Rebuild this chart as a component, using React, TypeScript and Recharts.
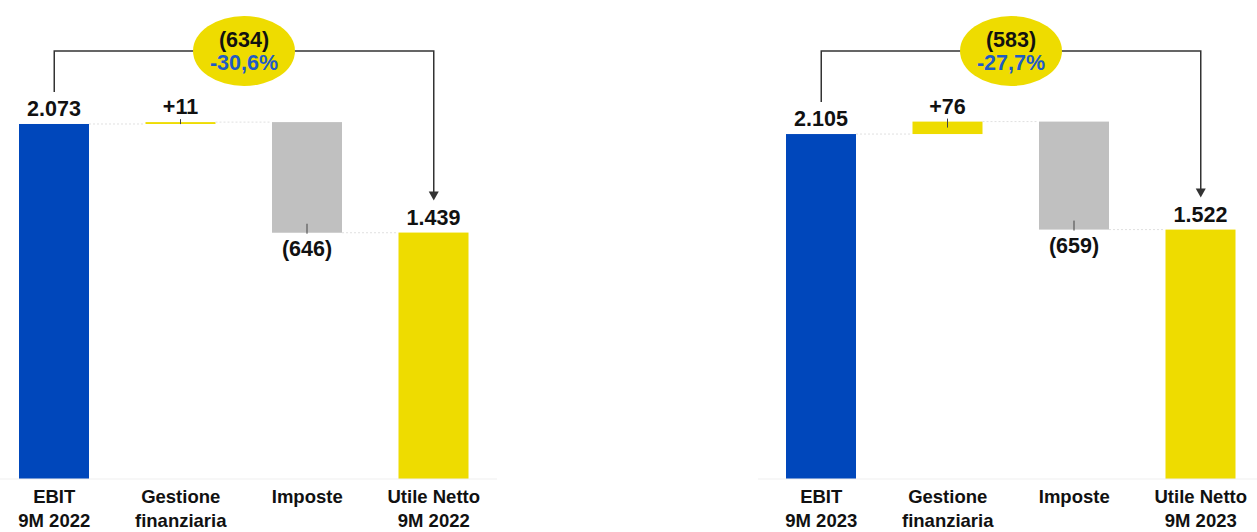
import React from "react";
import { BarChart, Bar, XAxis, YAxis, Cell, ReferenceLine } from "recharts";

const categories2022 = ["EBIT\n9M 2022", "Gestione\nfinanziaria", "Imposte", "Utile Netto\n9M 2022"];
const values2022 = [2073, 11, -646, 1439];

const categories2023 = ["EBIT\n9M 2023", "Gestione\nfinanziaria", "Imposte", "Utile Netto\n9M 2023"];
const values2023 = [2105, 76, -659, 1522];

const stepKinds = ["total", "delta", "delta", "total"];
const barColors = ["#0047BB", "#EEDC00", "#C0C0C0", "#EEDC00"];

const FONT = "'Liberation Sans', Arial, sans-serif";
const CHART_W = 506;
const CHART_H = 532;
const AXIS_H = 53;
const BRACKET_Y = 51;
const VALUE_FS = 21.5;

const fmt = (n: number) => {
  const a = Math.abs(n);
  if (a >= 1000) return `${Math.floor(a / 1000)}.${String(a % 1000).padStart(3, "0")}`;
  return String(a);
};

const buildRows = (categories: string[], values: number[]) => {
  let running = 0;
  return categories.map((name, i) => {
    const v = values[i];
    let base = 0;
    let size = v;
    if (stepKinds[i] === "total") {
      running = v;
    } else {
      base = v >= 0 ? running : running + v;
      size = Math.abs(v);
      running += v;
    }
    const label =
      stepKinds[i] === "total" ? fmt(v) : v >= 0 ? `+${fmt(v)}` : `(${fmt(v)})`;
    return { name, base, size, value: v, kind: stepKinds[i], label, color: barColors[i], last: i === categories.length - 1 };
  });
};

const WaterfallBar = (props: any) => {
  const { x, y, width, height, payload } = props;
  const cx = x + width / 2;
  const negative = payload.value < 0;
  const connY = negative ? y + height : y;
  return (
    <g>
      <rect x={x} y={y} width={width} height={Math.max(height, 1)} fill={payload.color} />
      {!payload.last && (
        <line x1={x + width} x2={x + width + 56} y1={connY} y2={connY} stroke="#e0e0e0" strokeDasharray="2 2" />
      )}
      {payload.kind === "delta" && !negative && (
        <line x1={cx} x2={cx} y1={y - 3} y2={y + Math.min(6, Math.max(height, 2))} stroke="#444" />
      )}
      {negative && <line x1={cx} x2={cx} y1={y + height - 9} y2={y + height + 1} stroke="#444" />}
      <text
        x={cx}
        y={negative ? y + height + 23 : y - 8}
        textAnchor="middle"
        fontFamily={FONT}
        fontWeight="bold"
        fontSize={VALUE_FS}
        fill="#111"
      >
        {payload.label}
      </text>
    </g>
  );
};

const CategoryTick = (props: any) => {
  const { x, y, payload } = props;
  const lines = String(payload.value).split("\n");
  return (
    <text textAnchor="middle" fontFamily={FONT} fontWeight="bold" fontSize={18.5} fill="#111">
      {lines.map((l, i) => (
        <tspan key={i} x={x} y={y + 24 + i * 24}>
          {l}
        </tspan>
      ))}
    </text>
  );
};

const Bracket = (props: any, start: number, end: number) => {
  const { x1, y1, x2, y2 } = props;
  const sy = y1 - 32;
  const ey = y2 - 32;
  const mid = (x1 + x2) / 2;
  const diff = end - start;
  const pct = ((diff / start) * 100).toFixed(1).replace(".", ",");
  return (
    <g>
      <path
        d={`M${x1},${sy} V${BRACKET_Y} H${x2} V${ey - 8}`}
        fill="none"
        stroke="#333"
        strokeWidth={1.5}
      />
      <polygon points={`${x2 - 5},${ey - 9} ${x2 + 5},${ey - 9} ${x2},${ey}`} fill="#333" />
      <ellipse cx={mid} cy={BRACKET_Y} rx={51} ry={35} fill="#EEDC00" />
      <text x={mid} y={BRACKET_Y - 4} textAnchor="middle" fontFamily={FONT} fontWeight="bold" fontSize={VALUE_FS} fill="#111">
        {diff < 0 ? `(${fmt(diff)})` : `+${fmt(diff)}`}
      </text>
      <text x={mid} y={BRACKET_Y + 19} textAnchor="middle" fontFamily={FONT} fontWeight="bold" fontSize={VALUE_FS} fill="#1F5BC6">
        {`${pct}%`}
      </text>
    </g>
  );
};

const WaterfallPanel = ({
  categories,
  values,
  domainMax,
  left,
}: {
  categories: string[];
  values: number[];
  domainMax: number;
  left: number;
}) => {
  const rows = buildRows(categories, values);
  const first = values[0];
  const last = values[values.length - 1];
  return (
    <div style={{ position: "absolute", left, top: 0 }}>
      <BarChart width={CHART_W} height={CHART_H} data={rows} margin={{ top: 0, right: 0, bottom: 0, left: 0 }} barSize={70}>
        <XAxis
          dataKey="name"
          height={AXIS_H}
          tickLine={false}
          tickSize={0}
          tickMargin={0}
          axisLine={{ stroke: "#efefef" }}
          tick={<CategoryTick />}
          interval={0}
        />
        <YAxis hide domain={[0, domainMax]} />
        <Bar dataKey="base" stackId="w" fill="transparent" isAnimationActive={false} />
        <Bar dataKey="size" stackId="w" shape={<WaterfallBar />} isAnimationActive={false}>
          {rows.map((r, i) => (
            <Cell key={i} fill={r.color} />
          ))}
        </Bar>
        <ReferenceLine
          segment={[
            { x: categories[0], y: first },
            { x: categories[categories.length - 1], y: last },
          ]}
          ifOverflow="visible"
          shape={(p: any) => Bracket(p, first, last)}
        />
      </BarChart>
    </div>
  );
}

export default function App() {
  return (
    <div
      style={{
        position: "absolute",
        left: 0,
        top: 0,
        width: 1257,
        height: 532,
        overflow: "hidden",
        background: "#fff",
      }}
    >
      <WaterfallPanel categories={categories2022} values={values2022} domainMax={2797} left={-9} />
      <WaterfallPanel categories={categories2023} values={values2023} domainMax={2923} left={758} />
    </div>
  );
}
